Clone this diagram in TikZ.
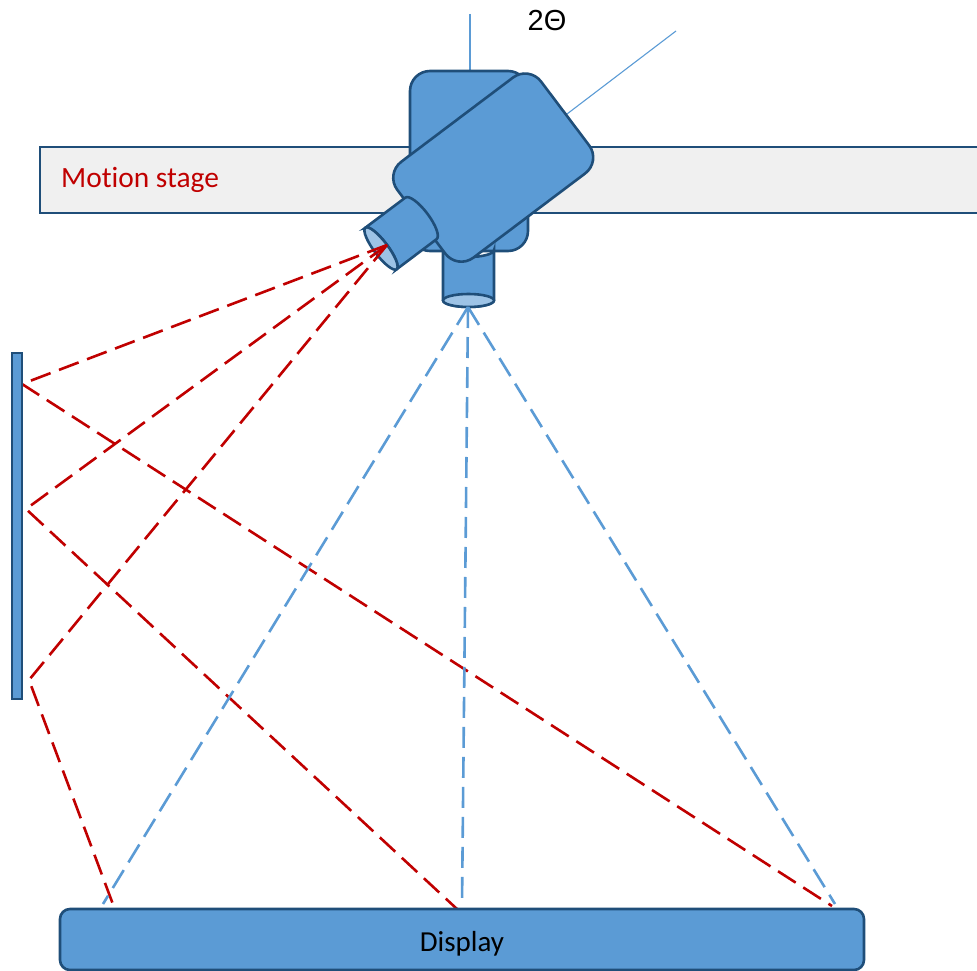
\documentclass[tikz,border=0pt]{standalone}
\usepackage{fontspec}
\usetikzlibrary{shapes.geometric}
\setmainfont[Ligatures=NoCommon]{Carlito}
\newfontfamily\arialfont{Liberation Sans}
\definecolor{boxfill}{HTML}{5B9BD5}
\definecolor{boxedge}{HTML}{1F4E79}
\definecolor{lensfill}{HTML}{9DC3E6}
\definecolor{raycol}{HTML}{C00000}
\definecolor{stagefill}{HTML}{F0F0F0}
\tikzset{
  solidbox/.style={draw=boxedge,fill=boxfill,line width=2.6pt,inner sep=0pt,outer sep=0pt,rectangle},
  stagebox/.style={draw=boxedge,fill=stagefill,line width=2.6pt,inner sep=0pt,outer sep=0pt,rectangle},
  lensface/.style={draw=boxedge,fill=lensfill,line width=2.6pt},
  redray/.style={draw=raycol,line width=2.6pt,dash pattern=on 21pt off 9pt,line join=round},
  blueray/.style={draw=boxfill,line width=2.6pt,dash pattern=on 21pt off 9pt},
  thinline/.style={draw=boxfill,line width=1.1pt},
}
\begin{document}
\begin{tikzpicture}[x=1pt,y=-1pt]
\useasboundingbox (0,0) rectangle (977,971);
\clip (0,0) rectangle (977,971);
% named ends
\coordinate (camfocus) at (387,245);
\coordinate (tubefocus) at (468,307);
\coordinate (mirrorA) at (22,384);
\coordinate (mirrorB) at (26,509);
\coordinate (mirrorC) at (29,680);
\coordinate (dispL) at (114,907);
\coordinate (dispM) at (457,909);
\coordinate (dispR) at (832,906);
\coordinate (blueL) at (103,904);
\coordinate (blueM) at (462,905);
\coordinate (blueR) at (835,904);
\coordinate (axisA) at (470,14);
\coordinate (axisAend) at (470,71);
\coordinate (axisB) at (676,31);
\coordinate (axisBend) at (567,114);
% thin axes
\draw[thinline] (axisA) -- (axisAend);
\draw[thinline] (axisB) -- (axisBend);
% stage
\node[stagebox,minimum width=960pt,minimum height=66pt,anchor=north west] (stage) at (40,147) {};
\node[anchor=west,text=raycol,font=\fontsize{29.4}{34}\selectfont,inner sep=0pt] (stagelabel) at (61,180) {Motion stage};
% back box
\node[solidbox,rounded corners=20pt,minimum width=118pt,minimum height=180pt] (back) at (469,161) {};
% vertical tube
\draw[solidbox] (443,300) -- (443,250) arc[start angle=180,end angle=0,x radius=25.5,y radius=7] -- (494,300) arc[start angle=0,end angle=180,x radius=25.5,y radius=7] -- cycle;
\node[lensface,ellipse,minimum width=51pt,minimum height=13pt,inner sep=0pt,outer sep=0pt] (tubelens) at (468.5,300.5) {};
% main body
\node[solidbox,rounded corners=20pt,minimum width=180pt,minimum height=120pt,rotate=37] (body) at (493.2,167.6) {};
% small tube
\begin{scope}[shift={(381,248.5)},rotate=37]
  \draw[solidbox] (0,-26) -- (50,-26) arc[start angle=-90,end angle=90,x radius=8,y radius=26] -- (0,26) arc[start angle=90,end angle=-90,x radius=7,y radius=26] -- cycle;
  \draw[lensface] (0,0) ellipse[x radius=7,y radius=26];
\end{scope}
% rays
\draw[redray] (camfocus) -- (mirrorA) -- (dispR);
\draw[redray] (camfocus) -- (mirrorB) -- (dispM);
\draw[redray] (camfocus) -- (mirrorC) -- (dispL);
\draw[blueray] (tubefocus) -- (blueL);
\draw[blueray] (tubefocus) -- (blueM);
\draw[blueray] (tubefocus) -- (blueR);
% mirror
\node[solidbox,minimum width=10pt,minimum height=346pt,anchor=north west] (mirror) at (12,353) {};
% display
\node[solidbox,rounded corners=10pt,minimum width=804pt,minimum height=61pt,anchor=north west] (display) at (60,909) {};
\node[font=\fontsize{29}{34}\selectfont,text=black,inner sep=0pt] (displaylabel) at (462,944) {Display};
% angle
\node[font=\arialfont\fontsize{29}{34}\selectfont,text=black,inner sep=0pt] (angle) at (547,21) {2Θ};
\end{tikzpicture}
\end{document}
